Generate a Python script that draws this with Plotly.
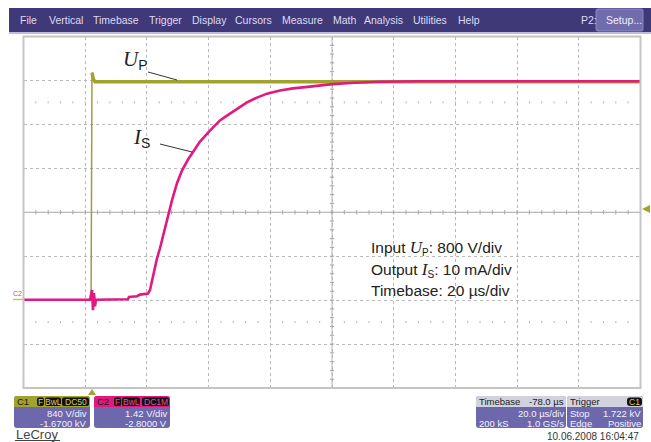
import plotly.graph_objects as go

# ---------------- data (time in µs relative to trigger, amplitude in screen divisions)
up_time = [-22.2, -0.3, 0.0, 0.5, 1.0, 177.8]
up_div = [-2.0, -2.0, 3.18, 3.02, 2.97, 2.97]

is_time = [-22.2, -0.65, 0.0, 0.32, 0.65, 0.97, 1.3, 11.67, 11.99, 14.59, 15.56, 18.15,
           18.80, 19.77, 21.07, 22.04, 23.34, 24.64, 25.93, 27.55, 29.17, 31.12, 32.74,
           35.01, 38.25, 41.49, 43.76, 47.00, 50.24, 53.48, 56.73, 60.94, 65.15, 70.66,
           77.15, 83.63, 93.36, 106.32, 177.8]
is_div = [-1.99, -1.99, -1.77, -2.23, -1.84, -2.14, -1.99, -1.98, -1.93, -1.91, -1.875, -1.85,
          -1.77, -1.43, -1.05, -0.82, -0.45, -0.07, 0.27, 0.66, 0.95, 1.20, 1.36,
          1.61, 1.86, 2.09, 2.20, 2.36, 2.50, 2.61, 2.70, 2.77, 2.82, 2.86,
          2.91, 2.94, 2.97, 2.98, 2.98]

menu_items = ["File", "Vertical", "Timebase", "Trigger", "Display", "Cursors", "Measure",
              "Math", "Analysis", "Utilities", "Help"]
menu_x = [18, 47, 91, 147, 190, 233, 280, 331, 362, 411, 456]

X_RANGE = [-22.2, 177.8]
Y_RANGE = [-4, 4]
X_CENTER = 77.8

W, H = 651, 442
OLIVE = "#a2a22e"
PINK = "#e2197f"
PURPLE = "#3f3979"
BOX = "#6d67ac"
SANS = "Liberation Sans"
SERIF = "Liberation Serif"


def X(x):
    return x / W


def Y(y):
    return 1 - y / H


fig = go.Figure()

# ---- decorative grid ticks (computed from the grid)
tx, ty = [], []
for k in range(51):
    t = X_RANGE[0] + k * 4.0
    tx += [t, t, None]
    ty += [-0.05, 0.05, None]
for k in range(41):
    v = Y_RANGE[0] + k * 0.2
    tx += [X_CENTER - 0.7, X_CENTER + 0.7, None]
    ty += [v, v, None]
fig.add_trace(go.Scatter(x=tx, y=ty, mode="lines", line=dict(color="#a8a8a8", width=1),
                         hoverinfo="skip", showlegend=False))
dx, dy = [], []
for row in (2.5, -2.5):
    for k in range(51):
        t = X_RANGE[0] + k * 4.0
        dx += [t, t, None]
        dy += [row - 0.025, row + 0.025, None]
fig.add_trace(go.Scatter(x=dx, y=dy, mode="lines", line=dict(color="#b8b8b8", width=1),
                         hoverinfo="skip", showlegend=False))

# ---- traces
fig.add_trace(go.Scatter(x=up_time[:3], y=up_div[:3], mode="lines",
                         line=dict(color="#9c9c45", width=1.5), hoverinfo="skip", showlegend=False))
fig.add_trace(go.Scatter(x=up_time[2:], y=up_div[2:], mode="lines",
                         line=dict(color=OLIVE, width=3.5), hoverinfo="skip", showlegend=False))
fig.add_trace(go.Scatter(x=is_time, y=is_div, mode="lines",
                         line=dict(color=PINK, width=2.6), hoverinfo="skip", showlegend=False))

shapes = []
ann = []

# center axes
shapes.append(dict(type="line", xref="x", yref="y", x0=X_RANGE[0], x1=X_RANGE[1], y0=0, y1=0,
                   line=dict(color="#a8a8a8", width=1), layer="below"))
shapes.append(dict(type="line", xref="x", yref="y", x0=X_CENTER, x1=X_CENTER, y0=Y_RANGE[0], y1=Y_RANGE[1],
                   line=dict(color="#b4b4b4", width=1), layer="below"))
# plot border
shapes.append(dict(type="rect", xref="paper", yref="paper", x0=X(23.5), x1=X(640.5), y0=Y(388), y1=Y(36.5),
                   line=dict(color="#c4c4c4", width=2)))


def rrect(x0, y0, x1, y1, r, fill, line=None, top_only=False):
    if top_only:
        p = (f"M {X(x0)},{Y(y1)} L {X(x0)},{Y(y0 + r)} Q {X(x0)},{Y(y0)} {X(x0 + r)},{Y(y0)} "
             f"L {X(x1 - r)},{Y(y0)} Q {X(x1)},{Y(y0)} {X(x1)},{Y(y0 + r)} L {X(x1)},{Y(y1)} Z")
    else:
        p = (f"M {X(x0 + r)},{Y(y0)} L {X(x1 - r)},{Y(y0)} Q {X(x1)},{Y(y0)} {X(x1)},{Y(y0 + r)} "
             f"L {X(x1)},{Y(y1 - r)} Q {X(x1)},{Y(y1)} {X(x1 - r)},{Y(y1)} L {X(x0 + r)},{Y(y1)} "
             f"Q {X(x0)},{Y(y1)} {X(x0)},{Y(y1 - r)} L {X(x0)},{Y(y0 + r)} Q {X(x0)},{Y(y0)} {X(x0 + r)},{Y(y0)} Z")
    shapes.append(dict(type="path", xref="paper", yref="paper", path=p, fillcolor=fill,
                       line=dict(color=line or fill, width=1 if line else 0)))


def txt(x, y, s, size=10, color="#f2f2ff", anchor="left", family=SANS, pad=1):
    ann.append(dict(x=X(x), y=Y(y), xref="paper", yref="paper", text=s, showarrow=False,
                    xanchor=anchor, yanchor="middle", borderpad=pad,
                    font=dict(family=family, size=size, color=color)))


def seg(x0, y0, x1, y1, color, width=1):
    shapes.append(dict(type="line", xref="paper", yref="paper", x0=X(x0), y0=Y(y0), x1=X(x1), y1=Y(y1),
                       line=dict(color=color, width=width)))


def tri(pts, color):
    p = "M " + " L ".join(f"{X(a)},{Y(b)}" for a, b in pts) + " Z"
    shapes.append(dict(type="path", xref="paper", yref="paper", path=p, fillcolor=color,
                       line=dict(color=color, width=0)))


def sans_span(s, px):
    return f"<span style='font-family:{SANS};font-size:{px}px'>{s}</span>"


def serif_it(s, px):
    return f"<span style='font-family:{SERIF};font-size:{px}px'><i>{s}</i></span>"


# ---- menu bar
shapes.append(dict(type="rect", xref="paper", yref="paper", x0=X(9), x1=X(651), y0=Y(32), y1=Y(8),
                   fillcolor=PURPLE, line=dict(width=0)))
seg(9, 33, 651, 33, "#a9a6c8", 1.5)
for name, mx in zip(menu_items, menu_x):
    txt(mx, 20, name, size=10.5, color="#dedcf2")
txt(579, 20, "P2:", size=10.5, color="#dedcf2")
rrect(596, 9, 643, 31, 2, "#716cab", line="#8e8ac4")
txt(604, 20, "Setup...", size=10.5, color="#eeeefc")

# ---- markers
tri([(642, 209), (650, 205), (650, 213)], OLIVE)
tri([(92, 389), (88, 395), (96, 395)], OLIVE)
seg(13, 299.5, 23, 299.5, "#c8c060", 1.5)
txt(17, 293.5, "C2", size=7, color="#d8506a", anchor="center")

# ---- trace labels
txt(121, 60, serif_it("U", 21) + "<sub>" + sans_span("P", 14) + "</sub>", size=21, color="#222222", family=SERIF)
seg(148, 72, 177, 80, "#333333", 1)
txt(131, 138, serif_it("I", 21) + "<sub>" + sans_span("S", 14) + "</sub>", size=21, color="#222222", family=SERIF)
seg(160, 144, 192, 152, "#333333", 1)

# ---- info text block
txt(369, 248, "Input " + serif_it("U", 17) + "<sub>" + sans_span("P", 10) + "</sub>: 800 V/div",
    size=15.5, color="#222222")
txt(369, 270, "Output " + serif_it("I", 17) + "<sub>" + sans_span("S", 10) + "</sub>: 10 mA/div",
    size=15.5, color="#222222")
txt(369, 290, "Timebase: 20 µs/div", size=15.5, color="#222222")

FS = 9.5


# ---- channel boxes
def chan_box(x0, x1, head_col, label, tags, tag_col, l1, l2):
    rrect(x0, 396, x1, 428, 3, BOX)
    rrect(x0, 396, x1, 407, 3, head_col, top_only=True)
    txt(x0 + 2, 401.5, label, size=FS, color="#1a1a1a", pad=0)
    for (a, b, s) in tags:
        rrect(a, 397.5, b, 406, 2, "#111111")
        txt((a + b) / 2, 401.7, s, size=8.5, color=tag_col, anchor="center", pad=0)
    txt(x1 - 2, 413.5, l1, size=FS, anchor="right", pad=0)
    txt(x1 - 2, 423.5, l2, size=FS, anchor="right", pad=0)


chan_box(14, 90, OLIVE, "C1", [(37, 44, "F"), (45, 61, "BwL"), (62, 89, "DC50")], "#d0d060",
         "840 V/div", "-1.6700 kV")
chan_box(94, 170, PINK, "C2", [(114, 121, "F"), (122, 140, "BwL"), (142, 169, "DC1M")], "#f04a9a",
         "1.42 V/div", "-2.8000 V")

# timebase box
rrect(476, 396, 566, 428, 3, BOX)
rrect(476, 396, 566, 407, 3, "#d2d2de", top_only=True)
txt(478, 401.5, "Timebase", size=FS, color="#1a1a1a", pad=0)
txt(565, 401.5, "-78.0 µs", size=FS, color="#1a1a1a", anchor="right", pad=0)
txt(565, 413.5, "20.0 µs/div", size=FS, anchor="right", pad=0)
txt(478, 423.5, "200 kS", size=FS, pad=0)
txt(565, 423.5, "1.0 GS/s", size=FS, anchor="right", pad=0)

# trigger box
rrect(567, 396, 643, 428, 3, BOX)
rrect(567, 396, 643, 407, 3, "#d2d2de", top_only=True)
txt(569, 401.5, "Trigger", size=FS, color="#1a1a1a", pad=0)
rrect(627, 397.5, 642, 406, 3, "#111111")
txt(634.5, 401.7, "C1", size=8.5, color="#d0d060", anchor="center", pad=0)
txt(569, 413.5, "Stop", size=FS, pad=0)
txt(642, 413.5, "1.722 kV", size=FS, anchor="right", pad=0)
txt(569, 423.5, "Edge", size=FS, pad=0)
txt(642, 423.5, "Positive", size=FS, anchor="right", pad=0)

# footer
txt(641, 436.5, "10.06.2008 16:04:47", size=10, color="#333333", anchor="right")
txt(15, 434.5, "LeCroy", size=13, color="#444444", pad=0)
seg(15, 440.5, 60, 440.5, "#444444", 1)

fig.update_layout(
    width=W, height=H, autosize=False,
    margin=dict(l=0, r=0, t=0, b=0),
    paper_bgcolor="white", plot_bgcolor="white",
    shapes=shapes, annotations=ann, showlegend=False,
    xaxis=dict(domain=[X(23.5), X(640.5)], range=X_RANGE, tick0=-2.2, dtick=20,
               showgrid=True, gridcolor="#b8b8b8", griddash="dot", gridwidth=1,
               showticklabels=False, ticks="", zeroline=False, showline=False, fixedrange=True),
    yaxis=dict(domain=[Y(388), Y(36.5)], range=Y_RANGE, dtick=1,
               showgrid=True, gridcolor="#b8b8b8", griddash="dot", gridwidth=1,
               showticklabels=False, ticks="", zeroline=False, showline=False, fixedrange=True),
)

fig.write_html("out.html", config={"displayModeBar": False},
               post_script="document.body.style.margin='0';document.body.style.overflow='hidden';")
